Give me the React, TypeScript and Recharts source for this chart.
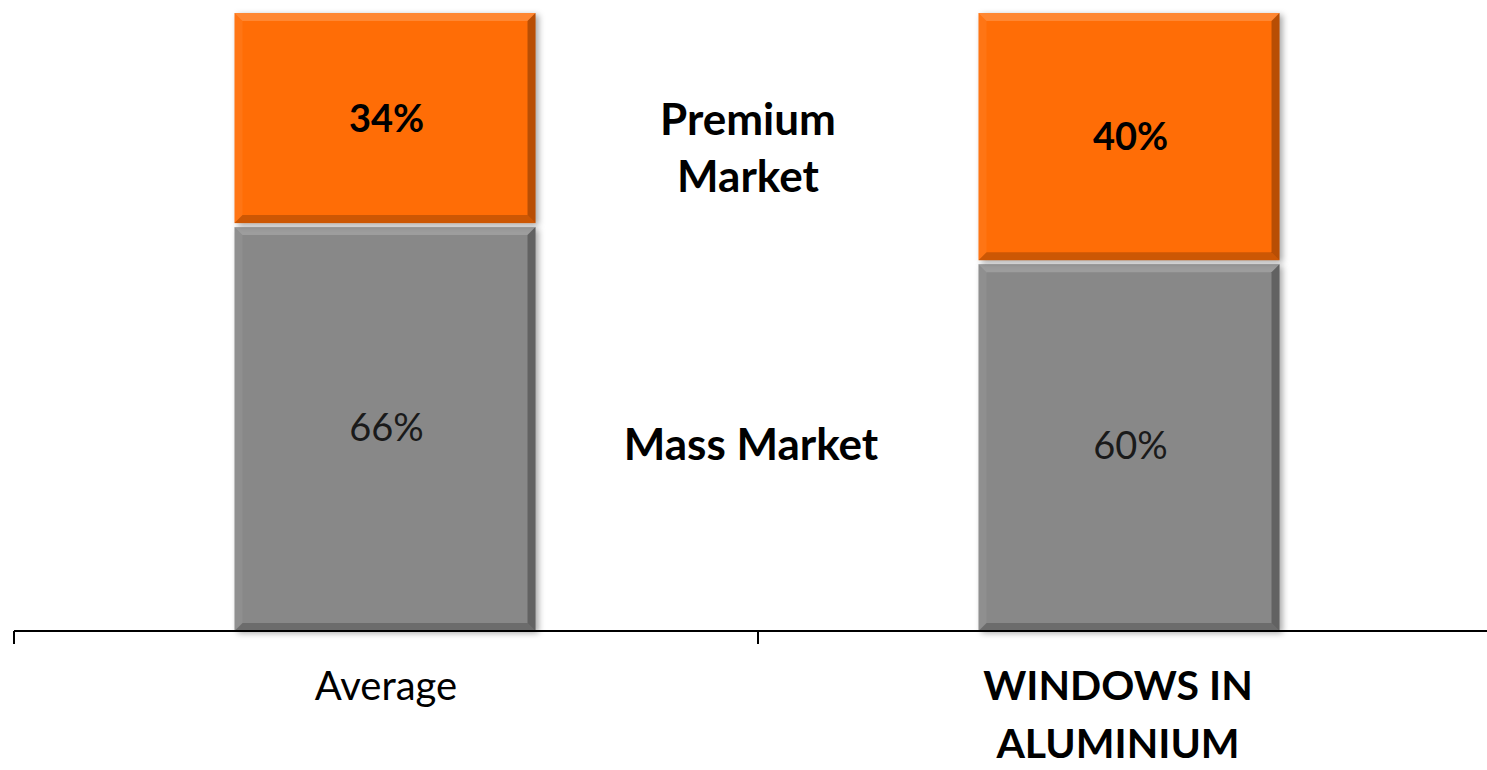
import React from 'react';
import { BarChart, Bar, XAxis, YAxis, LabelList } from 'recharts';

const categories = ['Average', 'WINDOWS IN ALUMINIUM'];
const tickLines = [['Average'], ['WINDOWS IN', 'ALUMINIUM']];
const tickBold = [false, true];
const massMarket = [66, 60];
const premiumMarket = [34, 40];

const data = categories.map((name, i) => ({
  name,
  mass: massMarket[i],
  premium: premiumMarket[i],
}));

const CHART_W = 1510;
const CHART_H = 770;
const MARGIN = { top: 13, right: 8, left: 14, bottom: 9 };
const PLOT_W = CHART_W - MARGIN.left - MARGIN.right;
const FONT = 'Lato, "Open Sans", sans-serif';

const ORANGE = '#FF6D06';
const GRAY = '#888888';

// bar segment with a soft bevel, like the office chart style
function BevelBar(props: any) {
  const { x, y, width, height, fill, inset = 0 } = props;
  if (!height || height <= 0) return null;
  const top = y + inset;
  const h = height - inset;
  const b = 8;
  const x0 = x - 1.5;
  const x2 = x0 + width;
  const y2 = top + h;
  return (
    <g style={{ filter: 'drop-shadow(3px 2px 3px rgba(0,0,0,0.35))' }}>
      <rect x={x0} y={top} width={width} height={h} fill={fill} />
      <polygon points={`${x0},${top} ${x2},${top} ${x2 - b},${top + b} ${x0 + b},${top + b}`} fill="#fff" opacity={0.18} />
      <polygon points={`${x0},${top} ${x0 + b},${top + b} ${x0 + b},${y2 - b} ${x0},${y2}`} fill="#fff" opacity={0.06} />
      <polygon points={`${x2},${top} ${x2},${y2} ${x2 - b},${y2 - b} ${x2 - b},${top + b}`} fill="#000" opacity={0.28} />
      <polygon points={`${x0},${y2} ${x2},${y2} ${x2 - b},${y2 - b} ${x0 + b},${y2 - b}`} fill="#000" opacity={0.2} />
    </g>
  );
}

function CategoryTick(props: any) {
  const { x, y, index } = props;
  const half = PLOT_W / categories.length / 2;
  const lines = tickLines[index] || [];
  const bold = tickBold[index];
  return (
    <g>
      <line x1={x - half} x2={x - half} y1={y} y2={y + 13} stroke="#000" strokeWidth={2} />
      {lines.map((ln, i) => (
        <text
          key={i}
          x={bold ? x - 12 : x}
          y={y + 69 + i * 58}
          textAnchor="middle"
          fontFamily={FONT}
          fontSize={bold ? 41 : 40}
          fontWeight={bold ? 700 : 400}
          fill="#000"
        >
          {ln}
        </text>
      ))}
    </g>
  );
}

const noteStyle: React.CSSProperties = {
  position: 'absolute',
  width: 400,
  textAlign: 'center',
  fontFamily: FONT,
  fontSize: 44,
  fontWeight: 700,
  lineHeight: '57px',
  color: '#000',
};

export default function App() {
  return (
    <div
      style={{
        position: 'fixed',
        left: 0,
        top: 0,
        width: 1487,
        height: 770,
        overflow: 'hidden',
        background: '#fff',
      }}
    >
      <BarChart width={CHART_W} height={CHART_H} data={data} margin={MARGIN} barSize={301}>
        <XAxis
          dataKey="name"
          height={130}
          axisLine={{ stroke: '#000', strokeWidth: 2 }}
          tickLine={false}
          tickSize={0}
          tickMargin={0}
          tick={<CategoryTick />}
          interval={0}
        />
        <YAxis hide domain={[0, 100]} />
        <Bar
          dataKey="mass"
          stackId="a"
          fill={GRAY}
          isAnimationActive={false}
          shape={(p: any) => <BevelBar {...p} inset={4} />}
        >
          <LabelList
            dataKey="mass"
            position="center"
            formatter={(v: any) => `${v}%`}
            fill="#1a1a1a"
            fontSize={38}
            fontFamily={FONT}
            offset={0}
          />
        </Bar>
        <Bar
          dataKey="premium"
          stackId="a"
          fill={ORANGE}
          isAnimationActive={false}
          shape={(p: any) => <BevelBar {...p} />}
        >
          <LabelList
            dataKey="premium"
            position="center"
            formatter={(v: any) => `${v}%`}
            fill="#000"
            fontSize={38}
            fontWeight={700}
            fontFamily={FONT}
          />
        </Bar>
      </BarChart>
      <div style={{ ...noteStyle, left: 548, top: 90 }}>
        Premium
        <br />
        Market
      </div>
      <div style={{ ...noteStyle, left: 551, top: 415 }}>Mass Market</div>
    </div>
  );
}
